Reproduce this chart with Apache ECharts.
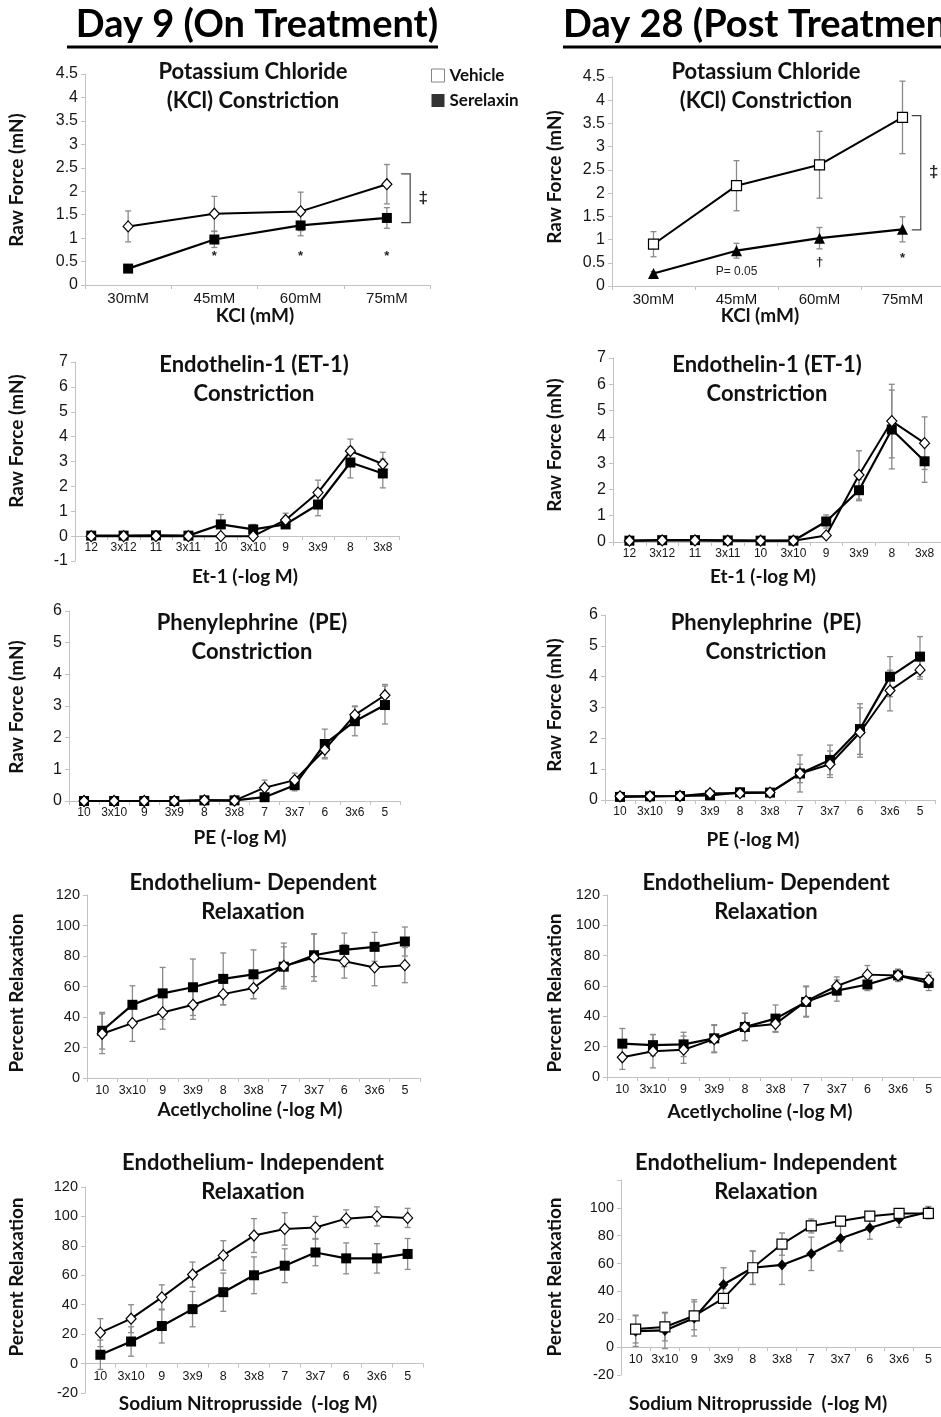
<!DOCTYPE html>
<html><head><meta charset="utf-8">
<script src="https://cdn.jsdelivr.net/npm/echarts@6/dist/echarts.min.js"></script>
<style>html,body{margin:0;padding:0;background:#fff}#c{width:941px;height:1417px}</style>
</head><body><div id="c"></div>
<script>
// ---------------- categories ----------------
const kclCats = ['30mM', '45mM', '60mM', '75mM'];
const et1Cats = ['12', '3x12', '11', '3x11', '10', '3x10', '9', '3x9', '8', '3x8'];
const peCats = ['10', '3x10', '9', '3x9', '8', '3x8', '7', '3x7', '6', '3x6', '5'];
const achCats = ['10', '3x10', '9', '3x9', '8', '3x8', '7', '3x7', '6', '3x6', '5'];
const snpCats = ['10', '3x10', '9', '3x9', '8', '3x8', '7', '3x7', '6', '3x6', '5'];

// ---------------- Day 9 values ----------------
const d9KclVeh = [1.25, 1.52, 1.57, 2.15];
const d9KclVehErr = [0.33, 0.37, 0.41, 0.42];
const d9KclSer = [0.35, 0.97, 1.27, 1.43];
const d9KclSerErr = [0.04, 0.17, 0.22, 0.22];

const d9EtVeh = [0, 0, 0, 0, 0, 0, 0.65, 1.75, 3.42, 2.9];
const d9EtVehErr = [0.03, 0.03, 0.03, 0.03, 0.05, 0.05, 0.27, 0.5, 0.48, 0.47];
const d9EtSer = [0.02, 0.02, 0.03, 0.02, 0.47, 0.27, 0.47, 1.27, 2.96, 2.52];
const d9EtSerErr = [0.02, 0.02, 0.02, 0.02, 0.4, 0.2, 0.15, 0.45, 0.62, 0.58];

const d9PeVeh = [0, 0, 0, 0, 0.02, 0.01, 0.42, 0.66, 1.62, 2.72, 3.34];
const d9PeVehErr = [0.01, 0.01, 0.01, 0.01, 0.02, 0.02, 0.24, 0.22, 0.25, 0.28, 0.34];
const d9PeSer = [0, 0, 0, 0, 0.02, 0.02, 0.12, 0.5, 1.8, 2.52, 3.03];
const d9PeSerErr = [0.01, 0.01, 0.01, 0.01, 0.02, 0.02, 0.05, 0.18, 0.47, 0.46, 0.6];

const d9AchVeh = [29, 36, 43, 48, 55, 59, 73.5, 79, 76.5, 72.5, 74];
const d9AchVehErr = [13, 12, 11, 9.5, 7, 7, 15, 15.5, 11, 12, 11.5];
const d9AchSer = [31, 48, 55.5, 59.5, 65, 68, 73, 80.5, 84, 86, 89.5];
const d9AchSerErr = [12, 12.5, 17, 18.5, 17, 16, 13, 14, 11, 9.5, 9.5];

const d9SnpVeh = [21, 30.5, 45, 60.5, 73.5, 87, 91.5, 92.5, 98.5, 100, 99];
const d9SnpVehErr = [9.5, 9.5, 8.5, 8.5, 10, 11.5, 11, 7.5, 6, 6.5, 6.5];
const d9SnpSer = [6, 15, 25.5, 37, 48.5, 60, 66.5, 75.5, 71.5, 71.5, 74.5];
const d9SnpSerErr = [10, 10, 11.5, 12, 13, 12.5, 11.5, 9, 10.5, 10, 10.5];

// ---------------- Day 28 values ----------------
const d28KclVeh = [0.9, 2.16, 2.61, 3.63];
const d28KclVehErr = [0.27, 0.54, 0.72, 0.78];
const d28KclSer = [0.27, 0.76, 1.03, 1.22];
const d28KclSerErr = [0.04, 0.16, 0.23, 0.27];

const d28EtVeh = [0.05, 0.06, 0.06, 0.05, 0.05, 0.05, 0.25, 2.55, 4.6, 3.76];
const d28EtVehErr = [0.02, 0.02, 0.02, 0.02, 0.02, 0.02, 0.05, 0.92, 1.4, 1.0];
const d28EtSer = [0.05, 0.07, 0.07, 0.06, 0.05, 0.05, 0.78, 1.97, 4.28, 3.07];
const d28EtSerErr = [0.02, 0.02, 0.02, 0.02, 0.02, 0.02, 0.25, 0.4, 1.5, 0.8];

const d28PeVeh = [0.12, 0.12, 0.13, 0.22, 0.22, 0.24, 0.86, 1.16, 2.19, 3.55, 4.22];
const d28PeVehErr = [0.03, 0.03, 0.04, 0.1, 0.05, 0.04, 0.6, 0.43, 0.8, 0.66, 0.3];
const d28PeSer = [0.1, 0.12, 0.13, 0.15, 0.25, 0.24, 0.86, 1.3, 2.3, 4.0, 4.65];
const d28PeSerErr = [0.03, 0.03, 0.03, 0.05, 0.05, 0.04, 0.3, 0.48, 0.82, 0.65, 0.65];

const d28AchVeh = [13, 17, 18, 25, 33, 35, 50, 60, 67.5, 67, 64];
const d28AchVehErr = [8, 11, 9, 9, 9, 5, 10, 6, 6, 4, 5];
const d28AchSer = [22, 21, 21.5, 25.5, 33, 38.5, 49.5, 57, 61, 67, 62];
const d28AchSerErr = [10, 7, 8, 9, 9, 9, 10, 7, 4, 4, 5];

const d28SnpVeh = [13, 14.5, 22.5, 35, 57, 74, 87, 90.5, 94, 96, 96];
const d28SnpVehErr = [10, 10, 10, 7, 12, 8, 5, 3, 2, 1, 4];
const d28SnpSer = [11.5, 12, 21, 45, 57, 59, 67, 78, 85.5, 92, 97];
const d28SnpSerErr = [11, 13, 13, 12, 12, 14, 12, 9, 8, 6, 4];

// ---------------- annotations (category index, value, text) ----------------
const d9KclMarks = [[1, 0.6, '*'], [2, 0.6, '*'], [3, 0.6, '*']];
const d9KclBracket = [[3, 2.37, 1.33]];
const d28KclMarks = [[1, 0.3, 'P= 0.05'], [2, 0.5, '\u2020'], [3, 0.6, '*']];
const d28KclBracket = [[3, 3.67, 1.21]];

// ---------------- styling / layout ----------------
const FT = 'Lato, "Open Sans", sans-serif';
const FN = '"Liberation Sans", Arial, sans-serif';
const AXC = '#c2c2c2', ERRC = '#8a8a8a', TXT = '#161616';

const panels = [
  {g: [85, 74, 345, 211], cats: kclCats, veh: d9KclVeh, vehErr: d9KclVehErr, ser: d9KclSer, serErr: d9KclSerErr,
   y: [0, 4.5, 0.5], vs: 'diamond', ss: 'rect', xfs: 15, yfs: 16,
   title: 'Potassium Chloride\n(KCl) Constriction', tc: [253, 72], xName: 'KCl (mM)', xn: [255, 316], yName: 'Raw Force (mN)', yn: [17, 180],
   marks: d9KclMarks, bracket: d9KclBracket, bOff: 0.27},
  {g: [612, 77, 332, 209], cats: kclCats, veh: d28KclVeh, vehErr: d28KclVehErr, ser: d28KclSer, serErr: d28KclSerErr,
   y: [0, 4.5, 0.5], vs: 'rect', ss: 'triangle', xfs: 15, yfs: 16,
   title: 'Potassium Chloride\n(KCl) Constriction', tc: [766, 72], xName: 'KCl (mM)', xn: [760, 316], yName: 'Raw Force (mN)', yn: [555, 177],
   marks: d28KclMarks, bracket: d28KclBracket, bOff: 0.22},
  {g: [75, 362, 324, 199], cats: et1Cats, veh: d9EtVeh, vehErr: d9EtVehErr, ser: d9EtSer, serErr: d9EtSerErr,
   y: [-1, 7, 1], vs: 'diamond', ss: 'rect', xfs: 12, yfs: 16,
   title: 'Endothelin-1 (ET-1)\nConstriction', tc: [254, 365], xName: 'Et-1 (-log M)', xn: [245, 577], yName: 'Raw Force (mN)', yn: [17, 441]},
  {g: [613, 358, 328, 184], cats: et1Cats, veh: d28EtVeh, vehErr: d28EtVehErr, ser: d28EtSer, serErr: d28EtSerErr,
   y: [0, 7, 1], vs: 'diamond', ss: 'rect', xfs: 12, yfs: 16,
   title: 'Endothelin-1 (ET-1)\nConstriction', tc: [767, 365], xName: 'Et-1 (-log M)', xn: [763, 577], yName: 'Raw Force (mN)', yn: [555, 445]},
  {g: [69, 611, 331, 190], cats: peCats, veh: d9PeVeh, vehErr: d9PeVehErr, ser: d9PeSer, serErr: d9PeSerErr,
   y: [0, 6, 1], vs: 'diamond', ss: 'rect', xfs: 12, yfs: 16,
   title: 'Phenylephrine  (PE)\nConstriction', tc: [252, 623], xName: 'PE (-log M)', xn: [240, 838], yName: 'Raw Force (mN)', yn: [17, 707]},
  {g: [605, 615, 330, 185], cats: peCats, veh: d28PeVeh, vehErr: d28PeVehErr, ser: d28PeSer, serErr: d28PeSerErr,
   y: [0, 6, 1], vs: 'diamond', ss: 'rect', xfs: 12, yfs: 16,
   title: 'Phenylephrine  (PE)\nConstriction', tc: [766, 623], xName: 'PE (-log M)', xn: [753, 840], yName: 'Raw Force (mN)', yn: [555, 705]},
  {g: [87, 895, 333, 183], cats: achCats, veh: d9AchVeh, vehErr: d9AchVehErr, ser: d9AchSer, serErr: d9AchSerErr,
   y: [0, 120, 20], vs: 'diamond', ss: 'rect', xfs: 12.5, yfs: 14.5,
   title: 'Endothelium- Dependent\nRelaxation', tc: [253, 883], xName: 'Acetlycholine (-log M)', xn: [250, 1110], yName: 'Percent Relaxation', yn: [17, 993]},
  {g: [607, 895, 337, 182], cats: achCats, veh: d28AchVeh, vehErr: d28AchVehErr, ser: d28AchSer, serErr: d28AchSerErr,
   y: [0, 120, 20], vs: 'diamond', ss: 'rect', xfs: 12.5, yfs: 14.5,
   title: 'Endothelium- Dependent\nRelaxation', tc: [766, 883], xName: 'Acetlycholine (-log M)', xn: [760, 1112], yName: 'Percent Relaxation', yn: [555, 993]},
  {g: [85, 1187, 338, 206], cats: snpCats, veh: d9SnpVeh, vehErr: d9SnpVehErr, ser: d9SnpSer, serErr: d9SnpSerErr,
   y: [-20, 120, 20], vs: 'diamond', ss: 'rect', xfs: 12.5, yfs: 14.5,
   title: 'Endothelium- Independent\nRelaxation', tc: [253, 1163], xName: 'Sodium Nitroprusside  (-log M)', xn: [248, 1404], yName: 'Percent Relaxation', yn: [17, 1277]},
  {g: [621, 1180, 322, 195], cats: snpCats, veh: d28SnpVeh, vehErr: d28SnpVehErr, ser: d28SnpSer, serErr: d28SnpSerErr,
   y: [-20, 120, 20], vs: 'rect', ss: 'diamond', xfs: 12.5, yfs: 14.5, hideTop: true,
   title: 'Endothelium- Independent\nRelaxation', tc: [766, 1163], xName: 'Sodium Nitroprusside  (-log M)', xn: [758, 1404], yName: 'Percent Relaxation', yn: [555, 1277]}
];

const symSize = {diamond: [10, 11], rect: 10, triangle: 11};

const grids = [], xAxes = [], yAxes = [], series = [], graphics = [];

// dummy series so the legend shows plain squares
series.push({type: 'scatter', name: 'Vehicle', xAxisIndex: 0, yAxisIndex: 0, data: [], symbol: 'rect',
  itemStyle: {color: '#fff', borderColor: '#666', borderWidth: 1}});
series.push({type: 'scatter', name: 'Serelaxin', xAxisIndex: 0, yAxisIndex: 0, data: [], symbol: 'rect',
  itemStyle: {color: '#000'}});

function errSeries(i, vals, errs) {
  return {
    type: 'custom', xAxisIndex: i, yAxisIndex: i, silent: true, z: 1,
    data: vals.map((v, k) => [k, v, errs[k]]),
    encode: {x: 0, y: 1},
    renderItem: function (params, api) {
      const x = api.value(0), v = api.value(1), e = api.value(2);
      const t = api.coord([x, v + e]), b = api.coord([x, v - e]);
      const c = 3, st = {stroke: ERRC, lineWidth: 1.3};
      return {type: 'group', children: [
        {type: 'line', shape: {x1: t[0], y1: t[1], x2: b[0], y2: b[1]}, style: st},
        {type: 'line', shape: {x1: t[0] - c, y1: t[1], x2: t[0] + c, y2: t[1]}, style: st},
        {type: 'line', shape: {x1: b[0] - c, y1: b[1], x2: b[0] + c, y2: b[1]}, style: st}
      ]};
    }
  };
}

panels.forEach(function (p, i) {
  grids.push({left: p.g[0], top: p.g[1], width: p.g[2], height: p.g[3], containLabel: false, outerBoundsMode: 'none'});
  // the category axis sits at value 0 (the y range may reach below zero)
  const zeroShift = p.y[0] < 0 ? -p.g[3] * (-p.y[0]) / (p.y[1] - p.y[0]) : 0;
  xAxes.push({
    type: 'category', gridIndex: i, data: p.cats, boundaryGap: true, position: 'bottom', offset: zeroShift,
    axisLine: {show: true, onZero: false, lineStyle: {color: AXC, width: 1}},
    axisTick: {show: true, length: 4, lineStyle: {color: AXC}},
    axisLabel: {show: true, interval: 0, color: TXT, fontSize: p.xfs, fontFamily: FN, margin: 6},
    splitLine: {show: false}
  });
  yAxes.push({
    type: 'value', gridIndex: i, min: p.y[0], max: p.y[1], interval: p.y[2],
    axisLine: {show: true, lineStyle: {color: AXC, width: 1}},
    axisTick: {show: true, length: 4, lineStyle: {color: AXC}},
    axisLabel: {show: true, color: TXT, fontSize: p.yfs, fontFamily: FN, margin: 7, showMinLabel: true, showMaxLabel: true,
      formatter: function (v) { return (p.hideTop && v === p.y[1]) ? '' : String(v); }},
    splitLine: {show: false}
  });
  series.push(errSeries(i, p.veh, p.vehErr));
  series.push(errSeries(i, p.ser, p.serErr));
  series.push({
    type: 'line', name: 'Serelaxin', xAxisIndex: i, yAxisIndex: i, data: p.ser, z: 3,
    symbol: p.ss, symbolSize: symSize[p.ss], showAllSymbol: true, animation: false,
    lineStyle: {color: '#000', width: 2.2}, itemStyle: {color: '#000', borderColor: '#000', borderWidth: 0}
  });
  series.push({
    type: 'line', name: 'Vehicle', xAxisIndex: i, yAxisIndex: i, data: p.veh, z: 4,
    symbol: p.vs, symbolSize: symSize[p.vs], showAllSymbol: true, animation: false,
    lineStyle: {color: '#000', width: 2}, itemStyle: {color: '#fff', borderColor: '#000', borderWidth: 1.2}
  });
  if (p.marks) {
    const marks = p.marks;
    series.push({
      type: 'custom', xAxisIndex: i, yAxisIndex: i, silent: true, z: 5,
      data: marks.map(m => [m[0], m[1]]), encode: {x: 0, y: 1},
      renderItem: function (params, api) {
        const pt = api.coord([api.value(0), api.value(1)]);
        const txt = marks[params.dataIndex][2];
        return {type: 'text', x: pt[0], y: pt[1], style: {text: txt, fill: '#222', font: (txt.length > 1 ? '12px ' : 'bold 13px ') + FN, textAlign: 'center', textVerticalAlign: 'middle'}};
      }
    });
  }
  if (p.bracket) {
    const off = p.bOff;
    series.push({
      type: 'custom', xAxisIndex: i, yAxisIndex: i, silent: true, z: 5,
      data: p.bracket, encode: {x: 0, y: [1, 2]},
      renderItem: function (params, api) {
        const band = api.size([1, 0])[0];
        const a = api.coord([api.value(0), api.value(1)]), b = api.coord([api.value(0), api.value(2)]);
        const x = a[0] + band * off;
        return {type: 'group', children: [
          {type: 'polyline', shape: {points: [[x - 9, a[1]], [x, a[1]], [x, b[1]], [x - 9, b[1]]]}, style: {stroke: '#444', lineWidth: 1.2, fill: null}},
          {type: 'text', x: x + 13, y: (a[1] + b[1]) / 2, style: {text: '\u2021', fill: '#222', font: 'bold 17px ' + FN, textAlign: 'center', textVerticalAlign: 'middle'}}
        ]};
      }
    });
  }
  // title
  graphics.push({type: 'text', x: p.tc[0], y: p.tc[1] - 14.5, silent: true,
    style: {text: p.title, fill: '#111', font: 'bold 22px ' + FT, lineHeight: 29, textAlign: 'center', textVerticalAlign: 'top'}});
  // x name
  graphics.push({type: 'text', x: p.xn[0], y: p.xn[1], silent: true,
    style: {text: p.xName, fill: '#111', font: 'bold 19px ' + FT, textAlign: 'center', textVerticalAlign: 'middle'}});
  // y name
  graphics.push({type: 'text', x: p.yn[0], y: p.yn[1], rotation: Math.PI / 2, silent: true,
    style: {text: p.yName, fill: '#111', font: 'bold 19px ' + FT, textAlign: 'center', textVerticalAlign: 'middle'}});
});

// column headers
graphics.push({type: 'text', x: 257, y: 25, silent: true,
  style: {text: 'Day 9 (On Treatment)', fill: '#000', font: 'bold 38px ' + FT, textAlign: 'center', textVerticalAlign: 'middle'}});
graphics.push({type: 'line', silent: true, shape: {x1: 67, y1: 47, x2: 438, y2: 47}, style: {stroke: '#000', lineWidth: 3}});
graphics.push({type: 'text', x: 563, y: 25, silent: true,
  style: {text: 'Day 28 (Post Treatment)', fill: '#000', font: 'bold 38px ' + FT, textAlign: 'left', textVerticalAlign: 'middle'}});
graphics.push({type: 'line', silent: true, shape: {x1: 563, y1: 47, x2: 941, y2: 47}, style: {stroke: '#000', lineWidth: 3}});

const chart = echarts.init(document.getElementById('c'), null, {renderer: 'canvas', width: 941, height: 1417});
chart.setOption({
  animation: false,
  backgroundColor: '#fff',
  grid: grids, xAxis: xAxes, yAxis: yAxes, series: series, graphic: graphics,
  legend: {
    show: true, orient: 'vertical', left: 431, top: 67, padding: 0, itemGap: 8,
    itemWidth: 13, itemHeight: 13, selectedMode: false,
    textStyle: {fontFamily: FT, fontWeight: 'bold', fontSize: 17, color: '#111'},
    data: [
      {name: 'Vehicle', icon: 'rect', itemStyle: {color: '#fff', borderColor: '#666', borderWidth: 1}},
      {name: 'Serelaxin', icon: 'rect', itemStyle: {color: '#000'}}
    ]
  }
});
</script>
</body></html>
